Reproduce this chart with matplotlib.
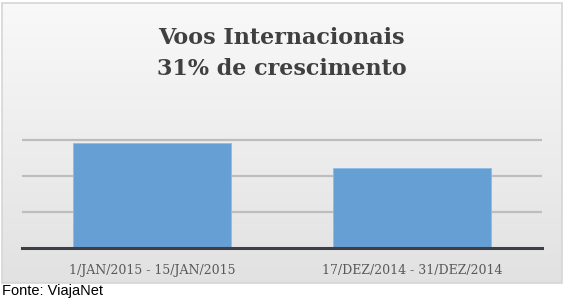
import numpy as np
import matplotlib
matplotlib.use('Agg')
import matplotlib.pyplot as plt
from matplotlib.patches import Rectangle

# dados (escala arbitrária, eixo y oculto no original)
categorias = ['1/JAN/2015 - 15/JAN/2015', '17/DEZ/2014 - 31/DEZ/2014']
valores = [2.92, 2.21]
titulo = ['Voos Internacionais', '31% de crescimento']
fonte = 'Fonte: ViajaNet'

W, H = 563, 307
fig = plt.figure(figsize=(W / 100, H / 100), dpi=100)
fig.patch.set_facecolor('white')

# painel de fundo com gradiente
px0, py0, px1, py1 = 2, 3, 561.5, 283
bg = fig.add_axes([px0 / W, 1 - py1 / H, (px1 - px0) / W, (py1 - py0) / H], zorder=0)
grad = np.linspace(0, 1, 256).reshape(-1, 1)
top_c = np.array([0.975, 0.975, 0.975])
bot_c = np.array([0.885, 0.885, 0.885])
img = top_c + (bot_c - top_c) * grad[..., None]
img = np.repeat(img, 2, axis=1)
bg.imshow(img, aspect='auto', extent=[0, 1, 0, 1], origin='upper')
bg.add_patch(Rectangle((0, 0), 1, 1, transform=bg.transAxes, fill=False,
                       edgecolor='#d6d6d6', linewidth=1.2, clip_on=False))
bg.set_axis_off()

# eixo principal
ax_l, ax_r = 22, 541.7
base_y = 247.7
unit = 35.9
ymax = 3.2
ax = fig.add_axes([ax_l / W, (H - base_y) / H, (ax_r - ax_l) / W, ymax * unit / H], zorder=1)
ax.set_facecolor('none')

x = np.arange(len(categorias))
ax.bar(x, valores, width=0.608, color='#669fd3', edgecolor='#8dbbe6', linewidth=0.6, zorder=3)

ax.set_xlim(-0.5, len(categorias) - 0.5)
ax.set_ylim(0, ymax)
ax.set_yticks([1, 2, 3])
ax.yaxis.grid(True, color='#bdbdbd', linewidth=1.6, zorder=1)
ax.set_axisbelow(True)
ax.tick_params(axis='y', left=False, labelleft=False)
ax.set_xticks(x)
ax.set_xticklabels(categorias, fontfamily='DejaVu Serif', fontsize=9, color='#595959')
ax.tick_params(axis='x', bottom=False, pad=8)
for s in ['top', 'right', 'left']:
    ax.spines[s].set_visible(False)
ax.spines['bottom'].set_color('#3b3f46')
ax.spines['bottom'].set_linewidth(2.2)
ax.spines['bottom'].set_zorder(4)

# título em duas linhas
fig.text(0.5, 1 - 44.3 / H, titulo[0], ha='center', va='baseline',
         fontfamily='DejaVu Serif', fontweight='bold', fontsize=16, color='#404040')
fig.text(0.5, 1 - 75 / H, titulo[1], ha='center', va='baseline',
         fontfamily='DejaVu Serif', fontweight='bold', fontsize=16, color='#404040')

# fonte
fig.text(2 / W, 1 - 295 / H, fonte, ha='left', va='baseline',
         fontfamily='Liberation Sans', fontsize=10.5, color='black')

plt.savefig('out.png', dpi=100)
